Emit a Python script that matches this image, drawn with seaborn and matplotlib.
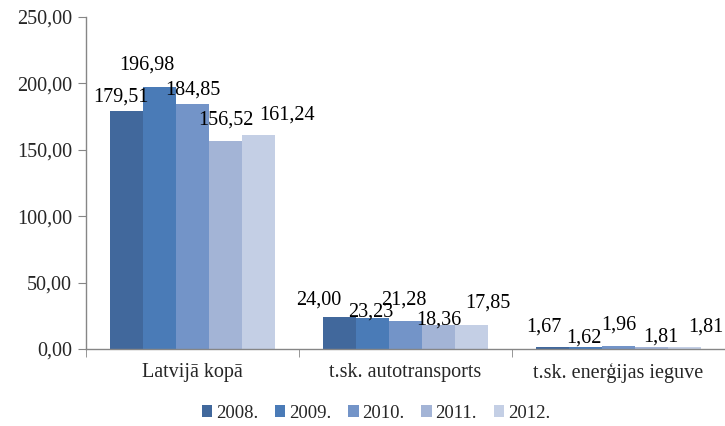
import matplotlib
matplotlib.use("Agg")
import matplotlib.pyplot as plt
import seaborn as sns
import pandas as pd
from matplotlib.patches import Patch

categories = ["Latvijā kopā", "t.sk. autotransports", "t.sk. enerģijas ieguve"]
years = ["2008.", "2009.", "2010.", "2011.", "2012."]
values_2008 = [179.51, 24.00, 1.67]
values_2009 = [196.98, 23.23, 1.62]
values_2010 = [184.85, 21.28, 1.96]
values_2011 = [156.52, 18.36, 1.81]
values_2012 = [161.24, 17.85, 1.81]
y_ticks = [0, 50, 100, 150, 200, 250]

colors = ["#41689c", "#4a7bb7", "#7394c8", "#a3b4d6", "#c4cfe5"]

# label nudges in pixels (dx, dy) per year, per category
label_nudge = [
    [(-6, 14), (-21, 17), (-9, 20)],
    [(-13, 22), (-2, 6), (-2, 9)],
    [(0, 13), (-2, 21), (0, 21)],
    [(0, 21), (0, 5), (9, 10)],
    [(29, 20), (16, 22), (21, 20)],
]

series = [values_2008, values_2009, values_2010, values_2011, values_2012]
rows = []
for yr, vals in zip(years, series):
    for cat, v in zip(categories, vals):
        rows.append({"cat": cat, "year": yr, "val": v})
df = pd.DataFrame(rows)

sns.set_style("white")
plt.rcParams["font.family"] = ["Liberation Serif", "DejaVu Serif"]

fig = plt.figure(figsize=(7.25, 4.26), dpi=100)
ax = fig.add_axes([86 / 725, 1 - 349 / 426, (725 - 86) / 725, 332 / 426])

sns.barplot(data=df, x="cat", y="val", hue="year", palette=colors,
            width=0.775, saturation=1, ax=ax, legend=False,
            order=categories, hue_order=years, linewidth=0, edgecolor="none")

for i, cont in enumerate(ax.containers):
    for j, bar in enumerate(cont):
        v = series[i][j]
        dx, dy = label_nudge[i][j]
        ax.annotate(f"{v:.2f}".replace(".", ","),
                    (bar.get_x() + bar.get_width() / 2, bar.get_height()),
                    xytext=(dx, dy), textcoords="offset pixels",
                    ha="center", va="center", fontsize=14.5, color="black")

ax.set_xlim(-0.5, len(categories) - 0.5)
ax.set_ylim(0, 250)
ax.set_yticks(y_ticks)
ax.set_yticklabels([f"{t:.2f}".replace(".", ",") for t in y_ticks], fontsize=14.5)
ax.set_xticks(range(len(categories)))
ax.set_xticklabels(categories, fontsize=14.5)
ax.set_xlabel("")
ax.set_ylabel("")

spine_color = "#868686"
for s in ["top", "right"]:
    ax.spines[s].set_visible(False)
for s in ["left", "bottom"]:
    ax.spines[s].set_color(spine_color)
    ax.spines[s].set_linewidth(1)

ax.tick_params(axis="y", which="major", length=6, color=spine_color,
               direction="out", left=True, pad=4)
ax.tick_params(axis="x", which="major", length=0, pad=10)
ax.set_xticks([-0.5, 0.5, 1.5], minor=True)
ax.tick_params(axis="x", which="minor", length=6, color=spine_color,
               direction="out", bottom=True)

handles = [Patch(facecolor=c, edgecolor="none") for c in colors]
fig.legend(handles, years, loc="center", bbox_to_anchor=(376 / 725, 1 - 413 / 426),
           ncol=5, frameon=False, fontsize=13.5, handlelength=0.55, handleheight=0.55,
           handletextpad=0.2, columnspacing=0.9)

fig.savefig("out.png", dpi=100)
